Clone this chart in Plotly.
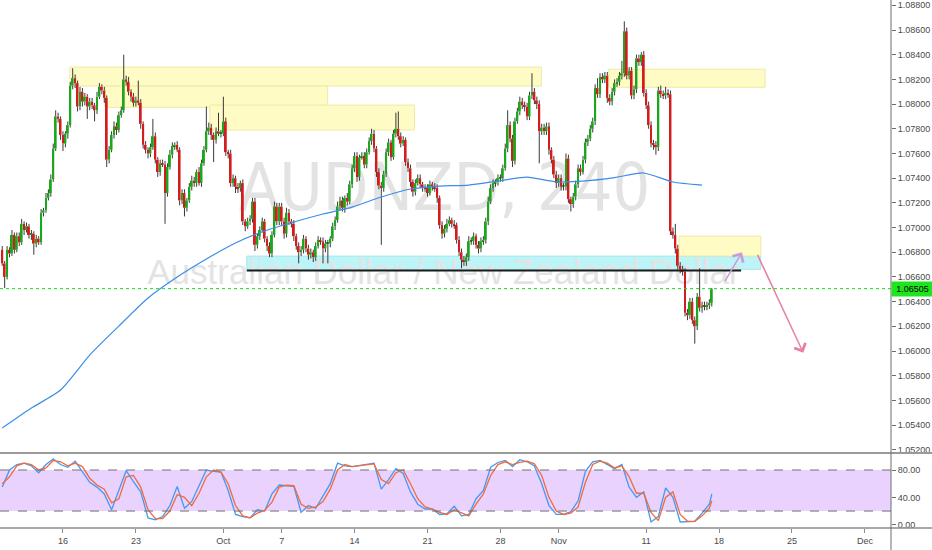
import pandas as pd
import plotly.graph_objects as go
from plotly.subplots import make_subplots

# AUDNZD 4H candles, Sep 9 20:00 -> Nov 15 12:00 (closes)
first_open = 1.0682
closes = [
    1.0671,
    1.0660, 1.0682, 1.0679, 1.0694, 1.0682, 1.0693,  # Sep 10
    1.0688, 1.0703, 1.0698, 1.0701, 1.0694, 1.0695,
    1.0687, 1.0691, 1.0688, 1.0712, 1.0714, 1.0724,
    1.0728, 1.0739, 1.0764, 1.0790, 1.0788, 1.0775,
    1.0768, 1.0776, 1.0783, 1.0815, 1.0821, 1.0817,  # Sep 16
    1.0798, 1.0810, 1.0802, 1.0806, 1.0798, 1.0802,
    1.0799, 1.0795, 1.0806, 1.0814, 1.0811, 1.0805,
    1.0755, 1.0763, 1.0775, 1.0782, 1.0779, 1.0791,
    1.0795, 1.0820, 1.0818, 1.0810, 1.0806, 1.0801,
    1.0803, 1.0801, 1.0784, 1.0767, 1.0763, 1.0760,  # Sep 23
    1.0765, 1.0774, 1.0755, 1.0745, 1.0752, 1.0751,
    1.0728, 1.0749, 1.0759, 1.0766, 1.0767, 1.0763,
    1.0722, 1.0728, 1.0716, 1.0722, 1.0733, 1.0738,
    1.0736, 1.0745, 1.0736, 1.0752, 1.0763, 1.0778,
    1.0781, 1.0775, 1.0771, 1.0778, 1.0776, 1.0776,  # Sep 30
    1.0786, 1.0761, 1.0760, 1.0736, 1.0740, 1.0733,
    1.0732, 1.0736, 1.0705, 1.0701, 1.0705, 1.0707,
    1.0721, 1.0686, 1.0693, 1.0698, 1.0705, 1.0691,
    1.0685, 1.0679, 1.0694, 1.0717, 1.0705, 1.0717,
    1.0705, 1.0695, 1.0712, 1.0705, 1.0703, 1.0693,  # Oct 7
    1.0685, 1.0680, 1.0682, 1.0691, 1.0683, 1.0678,
    1.0680, 1.0676, 1.0685, 1.0690, 1.0689, 1.0683,
    1.0687, 1.0687, 1.0691, 1.0701, 1.0706, 1.0717,
    1.0722, 1.0716, 1.0724, 1.0721, 1.0735, 1.0748,
    1.0758, 1.0741, 1.0757, 1.0758, 1.0751, 1.0761,  # Oct 14
    1.0770, 1.0776, 1.0764, 1.0745, 1.0734, 1.0732,
    1.0743, 1.0761, 1.0769, 1.0757, 1.0776, 1.0780,
    1.0774, 1.0768, 1.0771, 1.0753, 1.0748, 1.0737,
    1.0729, 1.0736, 1.0740, 1.0735, 1.0732, 1.0732,
    1.0728, 1.0735, 1.0733, 1.0732, 1.0724, 1.0702,  # Oct 21
    1.0695, 1.0699, 1.0703, 1.0706, 1.0703, 1.0702,
    1.0690, 1.0680, 1.0674, 1.0672, 1.0676, 1.0689,
    1.0689, 1.0693, 1.0686, 1.0683, 1.0689, 1.0690,
    1.0705, 1.0721, 1.0732, 1.0736, 1.0737, 1.0740,
    1.0740, 1.0748, 1.0764, 1.0783, 1.0772, 1.0754,  # Oct 28
    1.0786, 1.0794, 1.0802, 1.0799, 1.0798, 1.0790,
    1.0807, 1.0810, 1.0803, 1.0800, 1.0778, 1.0781,
    1.0778, 1.0782, 1.0763, 1.0755, 1.0743, 1.0736,
    1.0740, 1.0733, 1.0733, 1.0756, 1.0723, 1.0719,
    1.0725, 1.0735, 1.0748, 1.0745, 1.0755, 1.0769,  # Nov 4
    1.0772, 1.0780, 1.0786, 1.0813, 1.0808, 1.0822,
    1.0820, 1.0823, 1.0805, 1.0802, 1.0810, 1.0817,
    1.0818, 1.0823, 1.0825, 1.0859, 1.0823, 1.0827,
    1.0807, 1.0812, 1.0837, 1.0834, 1.0840, 1.0809,
    1.0799, 1.0783, 1.0768, 1.0767, 1.0765, 1.0811,  # Nov 11
    1.0808, 1.0807, 1.0809, 1.0808, 1.0697, 1.0694,
    1.0683, 1.0669, 1.0666, 1.0664, 1.0631, 1.0629,
    1.0640, 1.0625, 1.0620, 1.0644, 1.0635, 1.0637,
    1.0636, 1.0637, 1.0639, 1.0650,
]
# wick lengths in pips above the body / below the body
up_wick = [
    3,
    2, 3, 2, 4, 2, 3,  3, 4, 2, 3, 2, 3,  2, 3, 2, 3, 2, 4,  3, 4, 4, 5, 3, 2,
    3, 2, 3, 3, 8, 3,  2, 4, 3, 3, 2, 3,  3, 2, 4, 3, 2, 3,  2, 3, 3, 4, 3, 3,  3, 20, 3, 4, 2, 3,
    3, 16, 3, 2, 3, 2,  3, 14, 3, 2, 3, 3,  3, 3, 4, 3, 2, 3,  2, 3, 3, 2, 3, 4,  3, 2, 4, 3, 3, 20,
    4, 3, 2, 3, 15, 3,  20, 3, 2, 3, 3, 2,  3, 2, 3, 2, 3, 3,  3, 3, 2, 3, 3, 2,  2, 3, 3, 4, 3, 3,
    3, 3, 4, 3, 2, 3,  2, 3, 3, 3, 2, 3,  3, 2, 3, 3, 2, 3,  3, 3, 2, 3, 3, 4,  3, 3, 2, 4, 3, 3,
    3, 3, 2, 3, 3, 3,  3, 4, 3, 2, 3, 3,  3, 3, 3, 2, 3, 13,  14, 3, 3, 2, 3, 3,  2, 3, 3, 3, 2, 3,
    3, 3, 2, 3, 3, 2,  3, 3, 4, 3, 2, 3,  2, 3, 3, 3, 3, 4,  3, 3, 2, 3, 3, 3,  3, 4, 3, 3, 2, 3,
    3, 3, 4, 12, 3, 3,  3, 3, 4, 3, 3, 3,  3, 15, 3, 3, 3, 3,  3, 3, 3, 2, 3, 3,  3, 3, 3, 4, 3, 2,
    3, 3, 3, 3, 3, 3,  3, 3, 3, 3, 8, 3,  3, 3, 3, 3, 3, 3,  3, 3, 10, 8, 3, 3,  3, 3, 3, 3, 2, 3,
    3, 3, 3, 3, 3, 3,  4, 3, 5, 3, 3, 3,  9, 3, 3, 3, 3, 3,  3, 3, 3, 3, 23, 3,  3, 3, 3, 1,
]
dn_wick = [
    2,
    9, 2, 3, 2, 3, 2,  3, 2, 4, 2, 3, 4,  9, 3, 2, 2, 3, 2,  2, 3, 2, 2, 3, 4,
    6, 3, 4, 2, 3, 4,  4, 3, 4, 3, 10, 3,  3, 9, 3, 2, 3, 4,  6, 3, 2, 3, 4, 2,  2, 2, 3, 3, 4, 3,
    3, 2, 4, 3, 3, 4,  3, 2, 3, 4, 3, 2,  25, 3, 2, 3, 3, 2,  4, 3, 7, 3, 2, 3,  3, 3, 2, 3, 2, 2,
    3, 4, 18, 3, 2, 3,  2, 3, 4, 3, 3, 5,  4, 3, 3, 4, 2, 3,  3, 5, 3, 3, 2, 3,  4, 3, 3, 2, 3, 3,
    3, 4, 3, 3, 3, 4,  3, 9, 3, 3, 3, 4,  3, 4, 3, 2, 3, 12,  3, 16, 3, 2, 3, 2,  3, 3, 4, 3, 2, 3,
    3, 4, 3, 2, 3, 3,  2, 3, 3, 4, 3, 46,  3, 2, 3, 3, 2, 3,  3, 3, 2, 3, 3, 4,  4, 3, 2, 3, 3, 3,
    3, 2, 3, 3, 4, 3,  4, 3, 3, 2, 3, 3,  3, 3, 7, 3, 3, 3,  3, 3, 3, 4, 3, 3,  3, 3, 2, 3, 3, 3,
    3, 3, 2, 3, 3, 5,  3, 2, 3, 3, 4, 3,  3, 3, 3, 4, 26, 3,  3, 3, 4, 3, 3, 4,  3, 3, 3, 3, 3, 6,
    3, 3, 3, 3, 2, 3,  3, 2, 3, 3, 3, 3,  3, 3, 4, 3, 3, 3,  3, 3, 3, 3, 3, 3,  3, 3, 3, 3, 3, 3,
    3, 3, 3, 4, 6, 3,  3, 3, 3, 3, 3, 3,  4, 3, 3, 3, 3, 4,  3, 3, 14, 3, 3, 4,  3, 3, 3, 3,
]

# blue moving average, sampled every 12 candles
ma_idx = list(range(0, 289, 12)) + [292]
ma_vals = [1.05376, 1.05538, 1.05684, 1.05967, 1.06202, 1.06429, 1.06599, 1.06745,
           1.06875, 1.06972, 1.07045, 1.07110, 1.07166, 1.07247, 1.07312, 1.07336,
           1.07344, 1.07377, 1.07409, 1.07370, 1.07378, 1.07405, 1.07442, 1.07369,
           1.07344]
ma_vals = ma_vals[:len(ma_idx)]

# stochastic %K / %D, sampled every 3 candles
stoch_idx = list(range(0, 292, 3)) + [292]
stoch_k = [55, 80, 88, 90, 86, 76, 88, 96, 88, 84,
           93, 77, 62, 55, 45, 22, 51, 79, 63, 48,
           10, 7, 12, 28, 56, 24, 34, 56, 80, 78,
           77, 50, 15, 12, 10, 22, 20, 45, 58, 57,
           56, 18, 28, 24, 41, 60, 90, 86, 85, 87,
           88, 90, 52, 66, 82, 75, 48, 30, 23, 23,
           15, 16, 27, 13, 15, 38, 50, 84, 91, 94,
           85, 95, 92, 86, 60, 28, 15, 15, 19, 35,
           78, 92, 94, 88, 82, 88, 55, 40, 48, 4,
           12, 54, 40, 4, 5, 5, 17, 30, 45]
stoch_d = [60, 70, 86, 90, 88, 80, 83, 94, 92, 86,
           90, 85, 68, 58, 52, 32, 38, 70, 72, 55,
           22, 9, 9, 20, 44, 40, 28, 46, 70, 80,
           77, 60, 28, 13, 10, 17, 21, 33, 55, 58,
           57, 30, 24, 26, 34, 52, 80, 88, 85, 86,
           87, 89, 66, 60, 76, 80, 60, 38, 26, 23,
           18, 15, 22, 18, 13, 30, 45, 72, 88, 92,
           88, 91, 93, 89, 72, 40, 20, 15, 17, 26,
           62, 88, 93, 90, 83, 86, 70, 46, 46, 18,
           6, 40, 48, 15, 5, 5, 13, 24, 35]

x_ticks = ["2019-09-16", "2019-09-23", "2019-10-01", "2019-10-07", "2019-10-14", "2019-10-21",
           "2019-10-28", "2019-11-01", "2019-11-11", "2019-11-18", "2019-11-25", "2019-12-02"]
x_labels = ["16", "23", "Oct", "7", "14", "21", "28", "Nov", "11", "18", "25", "Dec"]
price_ticks = [1.052, 1.054, 1.056, 1.058, 1.060, 1.062, 1.064, 1.066, 1.068, 1.070,
               1.072, 1.074, 1.076, 1.078, 1.080, 1.082, 1.084, 1.086, 1.088]
last_price = 1.06505

# timestamps: 6 four-hour candles per weekday
days = pd.bdate_range("2019-09-10", "2019-11-15")
times = [pd.Timestamp("2019-09-09 20:00")]
for d in days:
    for h in range(0, 24, 4):
        times.append(d + pd.Timedelta(hours=h))
times = times[:len(closes)]

opens = [first_open] + closes[:-1]
tops = [max(o, c) for o, c in zip(opens, closes)]
bots = [min(o, c) for o, c in zip(opens, closes)]
highs = [t + u * 0.0001 for t, u in zip(tops, up_wick)]
lows = [b - d * 0.0001 for b, d in zip(bots, dn_wick)]
colors = ["#1ea51e" if c >= o else "#d31d1d" for o, c in zip(opens, closes)]

wx, wy = [], []
for t, h, tp, bt, lo in zip(times, highs, tops, bots, lows):
    wx += [t, t, None, t, t, None]
    wy += [h, tp, None, bt, lo, None]

YR = [1.05174, 1.08843]
FONT = "Liberation Sans, Arial, sans-serif"
WM_FONT = "Liberation Sans Narrow, DejaVu Sans Condensed, Liberation Sans, sans-serif"

fig = make_subplots(rows=2, cols=1, shared_xaxes=True, vertical_spacing=0)

# watermark on the base axis so candles sit on top of it
fig.add_trace(go.Scatter(
    x=[pd.Timestamp("2019-10-22 04:00"), pd.Timestamp("2019-10-22 03:00")],
    y=[1.07278, 1.06613], mode="text",
    text=["AUDNZD, 240", "Australian Dollar / New Zealand Dollar"],
    textfont=dict(size=[66, 35], color="#e3e3e3", family=[WM_FONT, FONT]),
    hoverinfo="skip", showlegend=False), row=1, col=1)

fig.add_trace(go.Bar(
    x=times, y=[max(c - b, 0.00008) for c, b in zip(tops, bots)], base=bots,
    width=4 * 3600 * 1000 * 0.8, marker=dict(color=colors, line=dict(width=0)),
    xaxis="x", yaxis="y3", showlegend=False, hoverinfo="skip"))
fig.add_trace(go.Scatter(
    x=wx, y=wy, mode="lines", line=dict(color="#3a3a3a", width=1),
    xaxis="x", yaxis="y3", showlegend=False, hoverinfo="skip"))
fig.add_trace(go.Scatter(
    x=[times[i] for i in ma_idx], y=ma_vals, mode="lines",
    line=dict(color="#3b8de6", width=1.2, shape="spline", smoothing=0.6),
    xaxis="x", yaxis="y3", showlegend=False, hoverinfo="skip"))

fig.add_trace(go.Scatter(
    x=[times[i] for i in stoch_idx], y=stoch_k, mode="lines",
    line=dict(color="#4499f2", width=1.3), showlegend=False), row=2, col=1)
fig.add_trace(go.Scatter(
    x=[times[i] for i in stoch_idx], y=stoch_d, mode="lines",
    line=dict(color="#f26a3a", width=1.3), showlegend=False), row=2, col=1)

shapes = []


def zone(t0, t1, p0, p1, fill, edge):
    shapes.append(dict(type="rect", xref="x", yref="y", x0=t0, x1=t1, y0=p0, y1=p1,
                       fillcolor=fill, line=dict(color=edge, width=1), layer="below"))


yellow, yedge = "#fefbc4", "#eeeaa4"
zone("2019-09-16 11:30", "2019-10-30 19:30", 1.08146, 1.08300, yellow, yedge)
zone("2019-09-18 21:00", "2019-10-10 03:40", 1.07974, 1.08146, yellow, yedge)
zone("2019-09-30 01:40", "2019-10-18 02:40", 1.07790, 1.07992, yellow, yedge)
zone("2019-11-06 10:30", "2019-11-21 03:40", 1.08136, 1.08282, yellow, yedge)
zone("2019-10-02 14:30", "2019-11-20 20:40", 1.06661, 1.06769, "#bdf4f8", "#a9e7ee")
zone("2019-11-13 06:15", "2019-11-20 20:40", 1.06769, 1.06931, yellow, yedge)

shapes.append(dict(type="line", xref="x", yref="y", x0="2019-10-02 14:30", x1="2019-11-19 12:15",
                   y0=1.06653, y1=1.06653, line=dict(color="#1a1a1a", width=2)))
shapes.append(dict(type="line", xref="paper", yref="y", x0=0, x1=1, y0=last_price, y1=last_price,
                   line=dict(color="#17d917", width=1, dash="dot")))

# stochastic band and levels
shapes.append(dict(type="rect", xref="paper", yref="y2", x0=0, x1=1, y0=20, y1=80,
                   fillcolor="#e9d2fd", line=dict(width=0), layer="below"))
for lv in (20, 80):
    shapes.append(dict(type="line", xref="paper", yref="y2", x0=0, x1=1, y0=lv, y1=lv,
                       line=dict(color="#707070", width=1, dash="dash")))

# pane separators and right axis line
sep = (528 - 453) / 528
shapes.append(dict(type="line", xref="paper", yref="paper", x0=0, x1=932 / 891, y0=sep, y1=sep,
                   line=dict(color="#9a9a9a", width=2)))
shapes.append(dict(type="line", xref="paper", yref="paper", x0=0, x1=932 / 891, y0=0, y1=0,
                   line=dict(color="#8c8c8c", width=1.5)))
shapes.append(dict(type="line", xref="paper", yref="paper", x0=1, x1=1, y0=-22 / 528, y1=1,
                   line=dict(color="#6e6e6e", width=1)))

annotations = [
    dict(x="2019-11-19 13:40", y=1.06799, ax="2019-11-18 08:15", ay=1.06553,
         xref="x", yref="y", axref="x", ayref="y", text="", showarrow=True,
         arrowhead=4, arrowsize=1.6, arrowwidth=1.5, arrowcolor="#c79cdc", standoff=0),
    dict(x="2019-11-25 18:35", y=1.05986, ax="2019-11-20 14:10", ay=1.06791,
         xref="x", yref="y", axref="x", ayref="y", text="", showarrow=True,
         arrowhead=4, arrowsize=1.6, arrowwidth=1.5, arrowcolor="#e8809f", standoff=0),
    dict(x=1, y=last_price, xref="paper", yref="y", xanchor="left", showarrow=False,
         text="1.06505", bgcolor="#1fe51f", width=37, height=10, borderpad=2,
         font=dict(size=9, color="#000000", family=FONT)),
]

rb = [dict(bounds=["sat", "mon"])]
xr = ["2019-09-09 16:20", "2019-12-03 19:00"]

fig.update_layout(
    width=932, height=550, margin=dict(l=0, r=41, t=0, b=22),
    paper_bgcolor="white", plot_bgcolor="white", showlegend=False,
    barmode="overlay", font=dict(family=FONT, size=9, color="#4a4a4a"),
    shapes=shapes, annotations=annotations,
    xaxis=dict(rangebreaks=rb, range=xr, showgrid=False, zeroline=False,
               showticklabels=False, ticks=""),
    xaxis2=dict(rangebreaks=rb, range=xr, showgrid=False, zeroline=False,
                tickvals=x_ticks, ticktext=x_labels, ticks="outside", ticklen=4,
                tickcolor="#8c8c8c", tickfont=dict(size=9, color="#4a4a4a")),
    yaxis=dict(domain=[sep, 1], range=YR, side="right", showgrid=False, zeroline=False,
               tickvals=price_ticks, ticktext=["%.5f" % p for p in price_ticks],
               ticks="outside", ticklen=4, tickcolor="#6e6e6e"),
    yaxis2=dict(domain=[0, (528 - 454) / 528], range=[-4.8, 103.4], side="right",
                showgrid=False, zeroline=False, tickvals=[0, 40, 80],
                ticktext=["0.00", "40.00", "80.00"], ticks="outside", ticklen=4,
                tickcolor="#6e6e6e"),
    yaxis3=dict(overlaying="y", range=YR, visible=False, showgrid=False, zeroline=False),
)

fig.write_html("out.html", config={"displayModeBar": False},
               post_script="document.body.style.margin='0';")
